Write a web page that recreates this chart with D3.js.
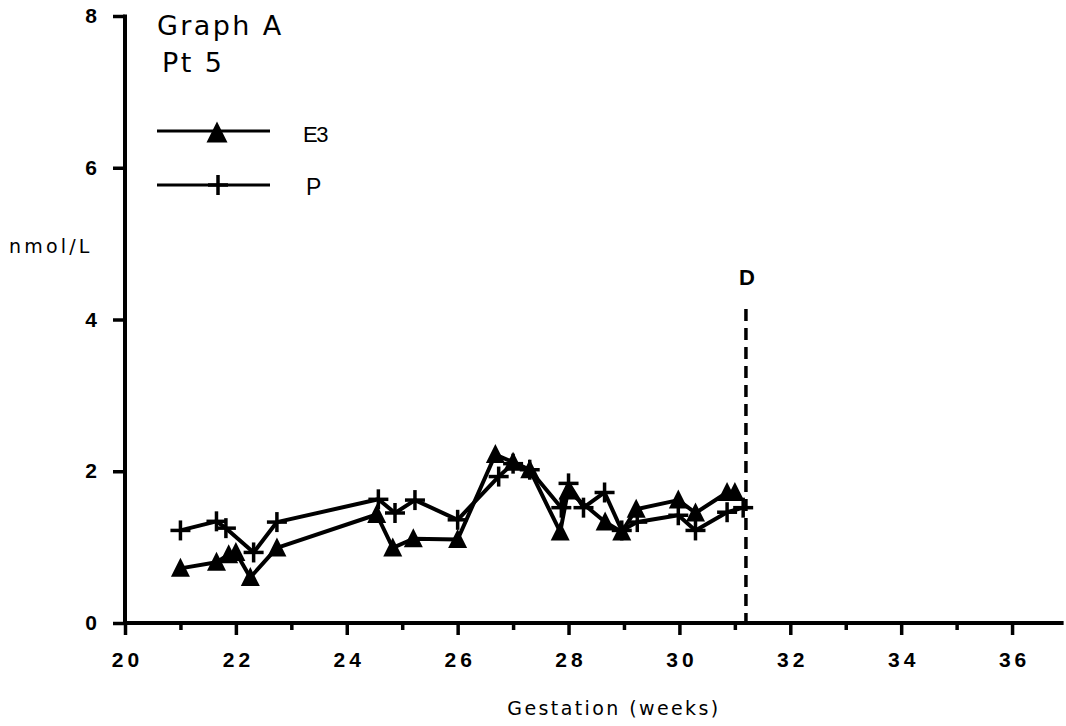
<!DOCTYPE html>
<html>
<head>
<meta charset="utf-8">
<script src="https://cdn.jsdelivr.net/npm/d3@7"></script>
<style>
  html, body { margin: 0; padding: 0; background: #fff; }
  svg { display: block; }
</style>
</head>
<body>
<svg id="chart" width="1066" height="726"></svg>
<script>
// Oestriol (E3) and progesterone (P), patient 5, by gestational week
const e3Weeks  = [21.0, 21.65, 21.87, 22.0, 22.26, 22.74, 24.54, 24.83, 25.2, 26.0, 26.68, 27.0, 27.3, 27.85, 27.99, 28.66, 28.96, 29.22, 29.98, 30.29, 30.86, 31.0];
const e3Values = [0.72, 0.80, 0.90, 0.93, 0.60, 0.99, 1.43, 0.99, 1.11, 1.10, 2.22, 2.12, 2.02, 1.20, 1.74, 1.33, 1.20, 1.50, 1.62, 1.45, 1.72, 1.72];

const pWeeks  = [21.0, 21.65, 21.82, 22.32, 22.74, 24.57, 24.87, 25.23, 26.0, 26.74, 27.0, 27.3, 27.87, 28.0, 28.27, 28.65, 28.96, 29.24, 29.98, 30.29, 30.86, 31.15];
const pValues = [1.22, 1.34, 1.25, 0.93, 1.33, 1.63, 1.45, 1.62, 1.36, 1.93, 2.10, 2.02, 1.52, 1.84, 1.52, 1.72, 1.22, 1.33, 1.42, 1.22, 1.46, 1.52];

const xMajorTicks = [20, 22, 24, 26, 28, 30, 32, 34, 36];
const xMinorTicks = [21, 23, 25, 27, 29, 31, 33, 35];
const yTicks = [0, 2, 4, 6, 8];
const deliveryWeek = 31.2;

const NUM_FONT = "'Liberation Sans', Arial, Helvetica, sans-serif";
const TXT_FONT = "'DejaVu Sans', Verdana, sans-serif";

const svg = d3.select("#chart");
const x = d3.scaleLinear().domain([20, 37]).range([125, 1067.5]);
const y = d3.scaleLinear().domain([0, 8]).range([623, 16]);

// x axis: minor (odd weeks) and major (even weeks) ticks
const gxMinor = svg.append("g").attr("transform", `translate(0,${y(0)})`)
  .call(d3.axisBottom(x).tickValues(xMinorTicks).tickSize(7).tickSizeOuter(0).tickFormat(""));
gxMinor.select(".domain").remove();
gxMinor.selectAll("line").attr("stroke", "#000").attr("stroke-width", 3.5);

const gx = svg.append("g").attr("transform", `translate(0,${y(0)})`)
  .call(d3.axisBottom(x).tickValues(xMajorTicks).tickSize(12).tickSizeOuter(0).tickPadding(17));
gx.select(".domain").remove();
gx.selectAll("line").attr("stroke", "#000").attr("stroke-width", 3.5);
gx.selectAll("text")
  .attr("font-size", 21).attr("font-weight", "bold").attr("letter-spacing", "4px")
  .attr("dx", "2px").attr("font-family", NUM_FONT).attr("fill", "#000");

svg.append("line")
  .attr("x1", x(20) - 1).attr("x2", x(36.93))
  .attr("y1", y(0)).attr("y2", y(0))
  .attr("stroke", "#000").attr("stroke-width", 4);

// y axis
const gy = svg.append("g").attr("transform", `translate(${x(20)},0)`)
  .call(d3.axisLeft(y).tickValues(yTicks).tickSize(12).tickSizeOuter(0).tickPadding(16));
gy.select(".domain").remove();
gy.selectAll("line").attr("stroke", "#000").attr("stroke-width", 3.5);
gy.selectAll("text")
  .attr("font-size", 21).attr("font-weight", "bold")
  .attr("font-family", NUM_FONT).attr("fill", "#000");
svg.append("line")
  .attr("x1", x(20)).attr("x2", x(20))
  .attr("y1", y(8) - 1.5).attr("y2", y(0) + 1)
  .attr("stroke", "#000").attr("stroke-width", 4);

// Axis titles
svg.append("text").attr("x", 9).attr("y", 253)
  .attr("font-family", TXT_FONT).attr("font-size", 19).attr("letter-spacing", "3.2px")
  .text("nmol/L");
svg.append("text").attr("x", 614).attr("y", 715).attr("text-anchor", "middle")
  .attr("font-family", TXT_FONT).attr("font-size", 19).attr("letter-spacing", "2.4px")
  .text("Gestation  (weeks)");

// Title
svg.append("text").attr("x", 157).attr("y", 35)
  .attr("font-family", TXT_FONT).attr("font-size", 27).attr("letter-spacing", "2.4px")
  .text("Graph A");
svg.append("text").attr("x", 162).attr("y", 72)
  .attr("font-family", TXT_FONT).attr("font-size", 27).attr("letter-spacing", "2.4px")
  .text("Pt  5");

// Delivery marker
svg.append("line")
  .attr("x1", x(deliveryWeek)).attr("x2", x(deliveryWeek))
  .attr("y1", 309).attr("y2", y(0))
  .attr("stroke", "#000").attr("stroke-width", 3.5)
  .attr("stroke-dasharray", "12,7");
svg.append("text").attr("x", x(deliveryWeek) + 1).attr("y", 285).attr("text-anchor", "middle")
  .attr("font-family", NUM_FONT).attr("font-size", 22).attr("font-weight", "bold").text("D");

// Marker symbols: a tall filled triangle and a plus sign
const tallTriangle = {
  draw(context, size) {
    const h = Math.sqrt(size);
    context.moveTo(0, -h / 2);
    context.lineTo(h / 2, h / 2);
    context.lineTo(-h / 2, h / 2);
    context.closePath();
  }
};
const triPath = d3.symbol().type(tallTriangle).size(19 * 19)();
function drawCross(g, cx, cy, s) {
  g.append("line").attr("x1", cx - s).attr("x2", cx + s).attr("y1", cy).attr("y2", cy)
    .attr("stroke", "#000").attr("stroke-width", 3.5);
  g.append("line").attr("x1", cx).attr("x2", cx).attr("y1", cy - s).attr("y2", cy + s)
    .attr("stroke", "#000").attr("stroke-width", 3.5);
}

const line = d3.line().x(d => x(d[0])).y(d => y(d[1]));

// P series
const pData = d3.zip(pWeeks, pValues);
svg.append("path").datum(pData).attr("d", line)
  .attr("fill", "none").attr("stroke", "#000").attr("stroke-width", 4).attr("stroke-linejoin", "round");
const gP = svg.append("g");
pData.forEach(d => drawCross(gP, x(d[0]), y(d[1]), 10));

// E3 series
const e3Data = d3.zip(e3Weeks, e3Values);
svg.append("path").datum(e3Data).attr("d", line)
  .attr("fill", "none").attr("stroke", "#000").attr("stroke-width", 4).attr("stroke-linejoin", "round");
svg.append("g").selectAll("path").data(e3Data).join("path")
  .attr("d", triPath)
  .attr("transform", d => `translate(${x(d[0])},${y(d[1]) - 1})`)
  .attr("fill", "#000");

// Legend
const legend = svg.append("g");
legend.append("line").attr("x1", 157).attr("x2", 270).attr("y1", 131).attr("y2", 131)
  .attr("stroke", "#000").attr("stroke-width", 3.2);
legend.append("path").attr("d", d3.symbol().type(tallTriangle).size(21 * 21)())
  .attr("transform", "translate(217,132)").attr("fill", "#000");
legend.append("text").attr("x", 303).attr("y", 142)
  .attr("font-family", NUM_FONT).attr("font-size", 22).attr("letter-spacing", "-1.5px").text("E3");

legend.append("line").attr("x1", 157).attr("x2", 270).attr("y1", 185).attr("y2", 185)
  .attr("stroke", "#000").attr("stroke-width", 3.2);
drawCross(legend, 218, 185, 10);
legend.append("text").attr("x", 306).attr("y", 195)
  .attr("font-family", NUM_FONT).attr("font-size", 23).text("P");
</script>
</body>
</html>
